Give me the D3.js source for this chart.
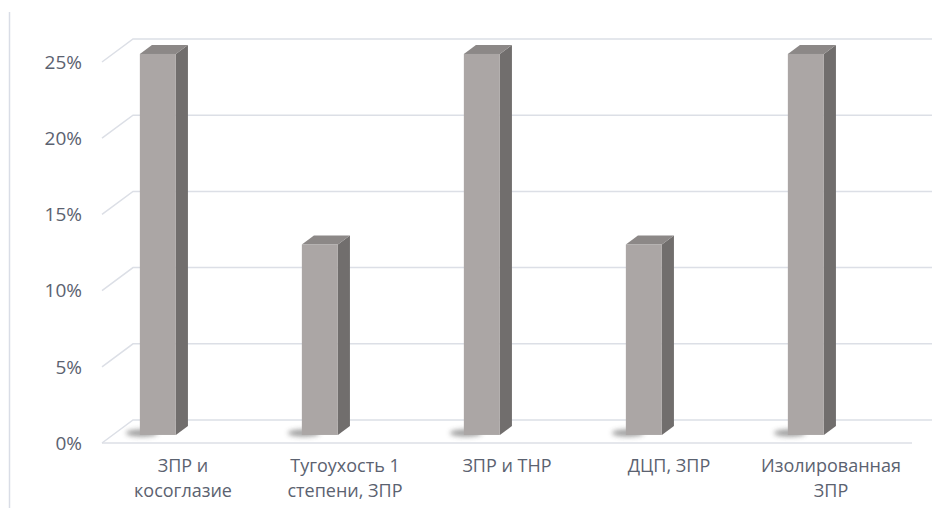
<!DOCTYPE html>
<html>
<head>
<meta charset="utf-8">
<script src="https://cdn.jsdelivr.net/npm/d3@7/dist/d3.min.js"></script>
<style>
  html, body { margin: 0; padding: 0; background: #ffffff; }
  svg { display: block; }
  text { font-family: "Open Sans", "Noto Sans", sans-serif; fill: #5b6270; }
</style>
</head>
<body>
<svg id="chart" width="932" height="508"></svg>
<script>
// Diagnoses and their share among the children
const categories = [
  ["ЗПР и", "косоглазие"],
  ["Тугоухость 1", "степени, ЗПР"],
  ["ЗПР и ТНР"],
  ["ДЦП, ЗПР"],
  ["Изолированная", "ЗПР"]
];
const values = [0.25, 0.125, 0.25, 0.125, 0.25];
const yTicks = [0, 0.05, 0.10, 0.15, 0.20, 0.25];
const yTickLabels = ["0%", "5%", "10%", "15%", "20%", "25%"];

const svg = d3.select("#chart");
const W = 932, H = 508;

// Oblique projection: front plane + depth offset
const DX = 31, DY = -23;
const x = d3.scaleBand().domain(d3.range(categories.length)).range([102, 912]);
const y = d3.scaleLinear().domain([0, 0.25]).range([443, 62]);
const proj = (px, v, d) => [px + DX * d, y(v) + DY * d];

const defs = svg.append("defs");
defs.append("filter").attr("id", "soft").attr("x", "-50%").attr("y", "-200%")
  .attr("width", "200%").attr("height", "500%")
  .append("feGaussianBlur").attr("stdDeviation", 2.5);

// chart area left border
svg.append("line")
  .attr("x1", 9.5).attr("x2", 9.5).attr("y1", 12).attr("y2", H)
  .attr("stroke", "#d9dde6").attr("stroke-width", 1.5);

const grid = svg.append("g").attr("fill", "none")
  .attr("stroke", "#dcdfe6").attr("stroke-width", 1.5);

// back-wall gridlines with side-wall diagonals
yTicks.forEach(t => {
  const f = proj(102, t, 0), b = proj(102, t, 1);
  grid.append("path")
    .attr("d", `M${f[0]},${f[1]}L${b[0]},${b[1]}L${W + 5},${b[1]}`);
});
// floor front edge
{
  const a = proj(102, 0, 0), c = proj(912, 0, 0);
  grid.append("path").attr("d", `M${a[0]},${a[1]}L${c[0]},${c[1]}`);
}

// y tick labels
svg.append("g").selectAll("text").data(yTicks).join("text")
  .attr("x", 82).attr("y", d => y(d))
  .attr("dy", "0.36em")
  .attr("text-anchor", "end")
  .attr("font-size", 19)
  .text((d, i) => yTickLabels[i]);

// bars
const D0 = 0.35, D1 = 0.74, BW = 36;
const barLeft = i => x(i) + x.bandwidth() / 2 - 54;
const bars = svg.append("g");
values.forEach((v, i) => {
  const xl = barLeft(i), xr = xl + BW;
  const p = (px, vv, d) => proj(px, vv, d).join(",");
  // soft floor shadow at the foot of the bar
  const bs = proj(xl, 0, D0);
  bars.append("ellipse")
    .attr("cx", bs[0] + 2).attr("cy", bs[1] - 2)
    .attr("rx", 16).attr("ry", 3.5)
    .attr("fill", "#3a3a3a").attr("opacity", 0.5)
    .attr("filter", "url(#soft)");
  // side face
  bars.append("polygon")
    .attr("points", [p(xr, 0, D0), p(xr, 0, D1), p(xr, v, D1), p(xr, v, D0)].join(" "))
    .attr("fill", "#716e6d");
  // top face
  bars.append("polygon")
    .attr("points", [p(xl, v, D0), p(xr, v, D0), p(xr, v, D1), p(xl, v, D1)].join(" "))
    .attr("fill", "#8c8887");
  // front face
  const tl = proj(xl, v, D0), br = proj(xr, 0, D0);
  bars.append("rect")
    .attr("x", tl[0]).attr("y", tl[1])
    .attr("width", br[0] - tl[0]).attr("height", br[1] - tl[1])
    .attr("fill", "#aba6a5");
});

// category labels
const cats = svg.append("g").attr("font-size", 18).attr("text-anchor", "middle");
categories.forEach((lines, i) => {
  const t = cats.append("text")
    .attr("x", x(i) + x.bandwidth() / 2).attr("y", 472);
  lines.forEach((s, j) => {
    t.append("tspan").attr("x", x(i) + x.bandwidth() / 2)
      .attr("dy", j === 0 ? 0 : 25).text(s);
  });
});
</script>
</body>
</html>
